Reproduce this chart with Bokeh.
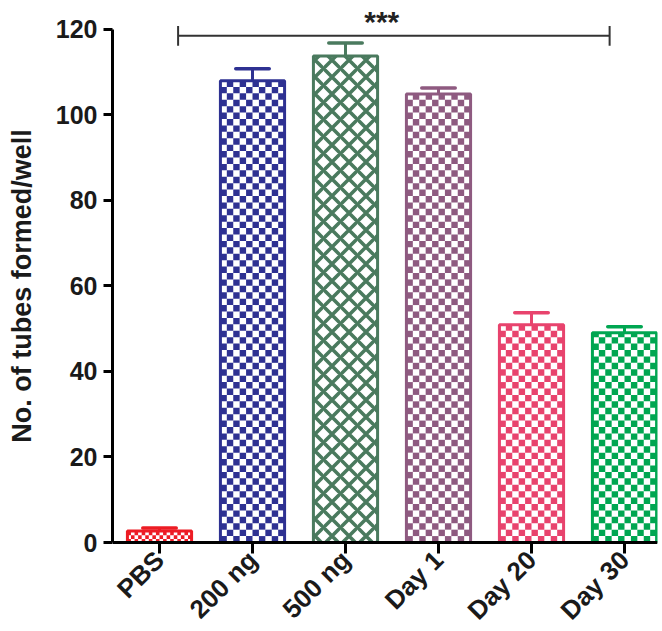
import math
from bokeh.plotting import figure
from bokeh.models import Range1d, FixedTicker, Label
from bokeh.core.properties import value
from bokeh.embed import file_html
from bokeh.resources import INLINE

# ---- data ----
categories = ["PBS", "200 ng", "500 ng", "Day 1", "Day 20", "Day 30"]
means = [2.7, 107.9, 113.7, 104.8, 50.9, 49.0]
errors = [0.7, 2.8, 3.0, 1.4, 2.8, 1.4]
y_ticks = [0, 20, 40, 60, 80, 100, 120]
y_title = "No. of tubes formed/well"
sig_span = [0.2, 4.84]      # bracket ends (category positions)
sig_level = 118.4
sig_text = "***"

# ---- style ----
colors = ["#ED1C24", "#2E3192", "#4A7A5E", "#8E5A80", "#E8436D", "#00A651"]
patterns = ["checker", "checker", "lattice", "checker", "checker", "checker"]
cells_across = [18, 10, 10, 10, 10, 10]
FONT = "Liberation Sans"
BAR_W = 0.69
W, H = 662, 631
LEFT, RIGHT = 112, 5
PX_PER_X = 93.0
PX_PER_Y = 513.5 / 120.0
X0 = -47 / PX_PER_X
X1 = X0 + (W - LEFT - RIGHT) / PX_PER_X
Y0, Y1 = -89 / PX_PER_Y, 542 / PX_PER_Y
TITLE_PAD = "\u00a0" * 8   # lifts the centred title onto the 0-120 span

xs = list(range(len(categories)))

p = figure(width=W, height=H, output_backend="svg", toolbar_location=None,
           x_range=Range1d(X0, X1), y_range=Range1d(Y0, Y1),
           min_border_left=LEFT, min_border_right=RIGHT, min_border_top=0,
           min_border_bottom=0)
p.outline_line_color = None
p.xgrid.visible = False
p.ygrid.visible = False
p.background_fill_color = "white"
p.border_fill_color = "white"
p.xaxis.visible = False

# bars: white base
p.vbar(x=[x for x, pt in zip(xs, patterns) if pt == "checker"],
       top=[m for m, pt in zip(means, patterns) if pt == "checker"],
       width=BAR_W, fill_color="white", line_color=None)

# checker cells derived from data
ql, qr, qb, qt, qc = [], [], [], [], []
for x, m, c, pt, n in zip(xs, means, colors, patterns, cells_across):
    if pt != "checker":
        continue
    cw = BAR_W / n
    ch = cw * PX_PER_X / PX_PER_Y
    left = x - BAR_W / 2
    j = 0
    while j * ch < m:
        y0 = j * ch
        y1 = min(y0 + ch, m)
        for k in range(n):
            if (j + k) % 2 == 0:
                ql.append(left + k * cw)
                qr.append(left + (k + 1) * cw)
                qb.append(y0)
                qt.append(y1)
                qc.append(c)
        j += 1
p.quad(left=ql, right=qr, bottom=qb, top=qt, fill_color=qc, line_color=None)

# lattice bar(s)
for x, m, c, pt in zip(xs, means, colors, patterns):
    if pt == "lattice":
        p.vbar(x=[x], top=[m], width=BAR_W, fill_color="white", line_color=None,
               hatch_pattern="diagonal_cross", hatch_color=c, hatch_weight=3.6,
               hatch_scale=17)

# bar outlines
p.vbar(x=xs, top=means, width=BAR_W, fill_color=None, line_color=colors,
       line_width=3)

# error bars (upper only)
tops = [m + e for m, e in zip(means, errors)]
p.segment(x0=xs, y0=means, x1=xs, y1=tops, line_color=colors, line_width=3)
p.segment(x0=[x - 0.18 for x in xs], y0=tops, x1=[x + 0.18 for x in xs],
          y1=tops, line_color=colors, line_width=3.5, line_cap="round")

# significance bracket
p.segment(x0=[sig_span[0]], y0=[sig_level], x1=[sig_span[1]], y1=[sig_level],
          line_color="#333333", line_width=2)
p.segment(x0=sig_span, y0=[sig_level - 2.3] * 2, x1=sig_span,
          y1=[sig_level + 2.3] * 2, line_color="#333333", line_width=2)
p.add_layout(Label(x=2.39, y=sig_level + 3.3, text=sig_text,
                   text_align="center", text_baseline="alphabetic",
                   text_font=FONT, text_font_style="bold",
                   text_font_size="30px", text_color="#222222"))

# y axis
ax = p.yaxis[0]
ax.axis_line_color = "black"
ax.axis_line_width = 3
ax.major_tick_line_color = "black"
ax.major_tick_line_width = 3
ax.minor_tick_line_color = None
ax.major_tick_in = 0
ax.major_label_text_font = FONT
ax.major_label_text_font_style = "bold"
ax.major_label_text_color = "#1a1a1a"
ax.ticker = FixedTicker(ticks=y_ticks)
ax.bounds = (y_ticks[0], y_ticks[-1])
ax.major_tick_out = 9
ax.major_label_standoff = 6
ax.major_label_text_font_size = "25px"
ax.axis_label = TITLE_PAD + y_title
ax.axis_label_text_font = FONT
ax.axis_label_text_font_style = "bold"
ax.axis_label_text_font_size = "27px"
ax.axis_label_text_color = "#1a1a1a"
ax.axis_label_standoff = 16

# category axis at y = 0: baseline, ticks and rotated labels
p.segment(x0=[X0], y0=[0], x1=[X1], y1=[0], line_color="black", line_width=3)
p.segment(x0=xs, y0=[0] * len(xs), x1=xs, y1=[-11 / PX_PER_Y] * len(xs),
          line_color="black", line_width=3)
p.text(x=xs, y=[-13 / PX_PER_Y] * len(xs), text=categories, angle=math.pi / 4,
       text_align="right", text_baseline="middle", text_font=value(FONT),
       text_font_style="bold", text_font_size="26px", text_color="#1a1a1a")

open("out.html", "w").write(file_html(p, INLINE))
